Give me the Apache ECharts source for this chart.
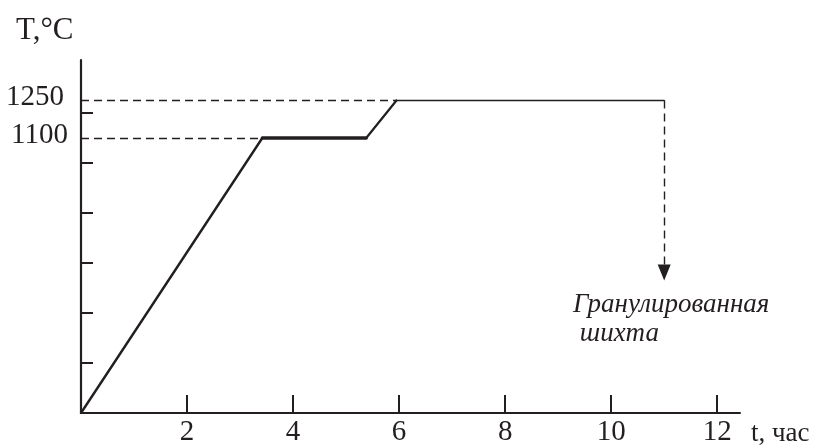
<!DOCTYPE html>
<html>
<head>
<meta charset="utf-8">
<script src="https://cdn.jsdelivr.net/npm/echarts@6/dist/echarts.min.js"></script>
<style>
  html, body { margin: 0; padding: 0; background: #fff; }
  #chart { width: 814px; height: 445px; }
</style>
</head>
<body>
<div id="chart"></div>
<script>
// Heating schedule: time (hours) vs. temperature (°C)
const timeH = [0, 3.42, 5.38, 5.95, 11];
const tempC = [0, 1100, 1100, 1250, 1250];

// Discharge arrow: from the end of the hold down to the product label
const dischargeFrom = [11, 1250];
const dischargeTo = [11, 562];

// Axis ticks and labels
const xTickValues = [2, 4, 6, 8, 10, 12];
const yTickValues = [200, 400, 600, 800, 1000, 1200];
const yLabelValues = [1100, 1250];

const xAxisName = 't, час';
const yAxisName = 'T,°C';
const productLines = ['Гранулированная', 'шихта'];

// Stroke width of each schedule segment
const segmentWidths = [2.4, 3.4, 2.2, 1.6];

const ink = '#231f20';
const serif = '"Liberation Serif", "Times New Roman", serif';

const chart = echarts.init(document.getElementById('chart'), null, { renderer: 'canvas' });

const dash = { type: [8, 5], width: 1.4, color: ink };

const segments = [];
for (let i = 0; i < timeH.length - 1; i++) {
  segments.push({
    type: 'line',
    data: [[timeH[i], tempC[i]], [timeH[i + 1], tempC[i + 1]]],
    symbol: 'none',
    lineStyle: { color: ink, width: segmentWidths[i], cap: 'round', join: 'round' },
    silent: true,
    z: 3
  });
}

// Dashed reference lines to the y axis and the discharge arrow
segments[0].markLine = {
  silent: true,
  animation: false,
  label: { show: false },
  lineStyle: dash,
  data: [
    [{ coord: [0, tempC[1]], symbol: 'none' }, { coord: [timeH[1], tempC[1]], symbol: 'none' }],
    [{ coord: [0, tempC[3]], symbol: 'none' }, { coord: [timeH[3], tempC[3]], symbol: 'none' }],
    [{ coord: dischargeFrom, symbol: 'none' },
     { coord: dischargeTo, symbol: 'triangle', symbolSize: [13, 16] }]
  ],
  itemStyle: { color: ink }
};

chart.setOption({
  animation: false,
  backgroundColor: '#fff',
  title: {
    text: yAxisName,
    left: 11,
    top: 10,
    textStyle: { fontFamily: serif, fontSize: 31, fontWeight: 'normal', color: ink }
  },
  grid: { left: 81, right: 74, top: 60, bottom: 32, containLabel: false, outerBoundsMode: 'none' },
  xAxis: {
    type: 'value',
    min: 0,
    max: 12.43,
    name: xAxisName,
    nameLocation: 'end',
    nameGap: 11,
    nameTextStyle: {
      fontFamily: serif, fontSize: 27, color: ink,
      align: 'left', verticalAlign: 'top', padding: [7, 0, 0, 0]
    },
    axisLine: { lineStyle: { color: ink, width: 2 } },
    axisTick: { customValues: xTickValues, inside: true, length: 18, lineStyle: { color: ink, width: 2 } },
    axisLabel: {
      customValues: xTickValues,
      margin: 5,
      fontFamily: serif, fontSize: 29, color: ink
    },
    splitLine: { show: false }
  },
  yAxis: {
    type: 'value',
    min: 0,
    max: 1412,
    axisLine: { lineStyle: { color: ink, width: 2.2 } },
    axisTick: { customValues: yTickValues, inside: true, length: 12, lineStyle: { color: ink, width: 2 } },
    axisLabel: {
      customValues: yLabelValues,
      margin: 13,
      fontFamily: serif, fontSize: 29, color: ink,
      formatter: v => v === 1250 ? '{a|' + v + '}' : '{b|' + v + '}',
      rich: {
        a: { fontFamily: serif, fontSize: 29, color: ink, padding: [0, 4, 6, 0] },
        b: { fontFamily: serif, fontSize: 29, color: ink, padding: [0, 0, 6, 0] }
      }
    },
    splitLine: { show: false }
  },
  graphic: [
    {
      type: 'text',
      left: 573,
      top: 290,
      silent: true,
      style: {
        text: productLines[0] + '\n ' + productLines[1],
        font: 'italic 27px ' + serif,
        fill: ink,
        lineHeight: 29
      }
    }
  ],
  series: segments
});
</script>
</body>
</html>
